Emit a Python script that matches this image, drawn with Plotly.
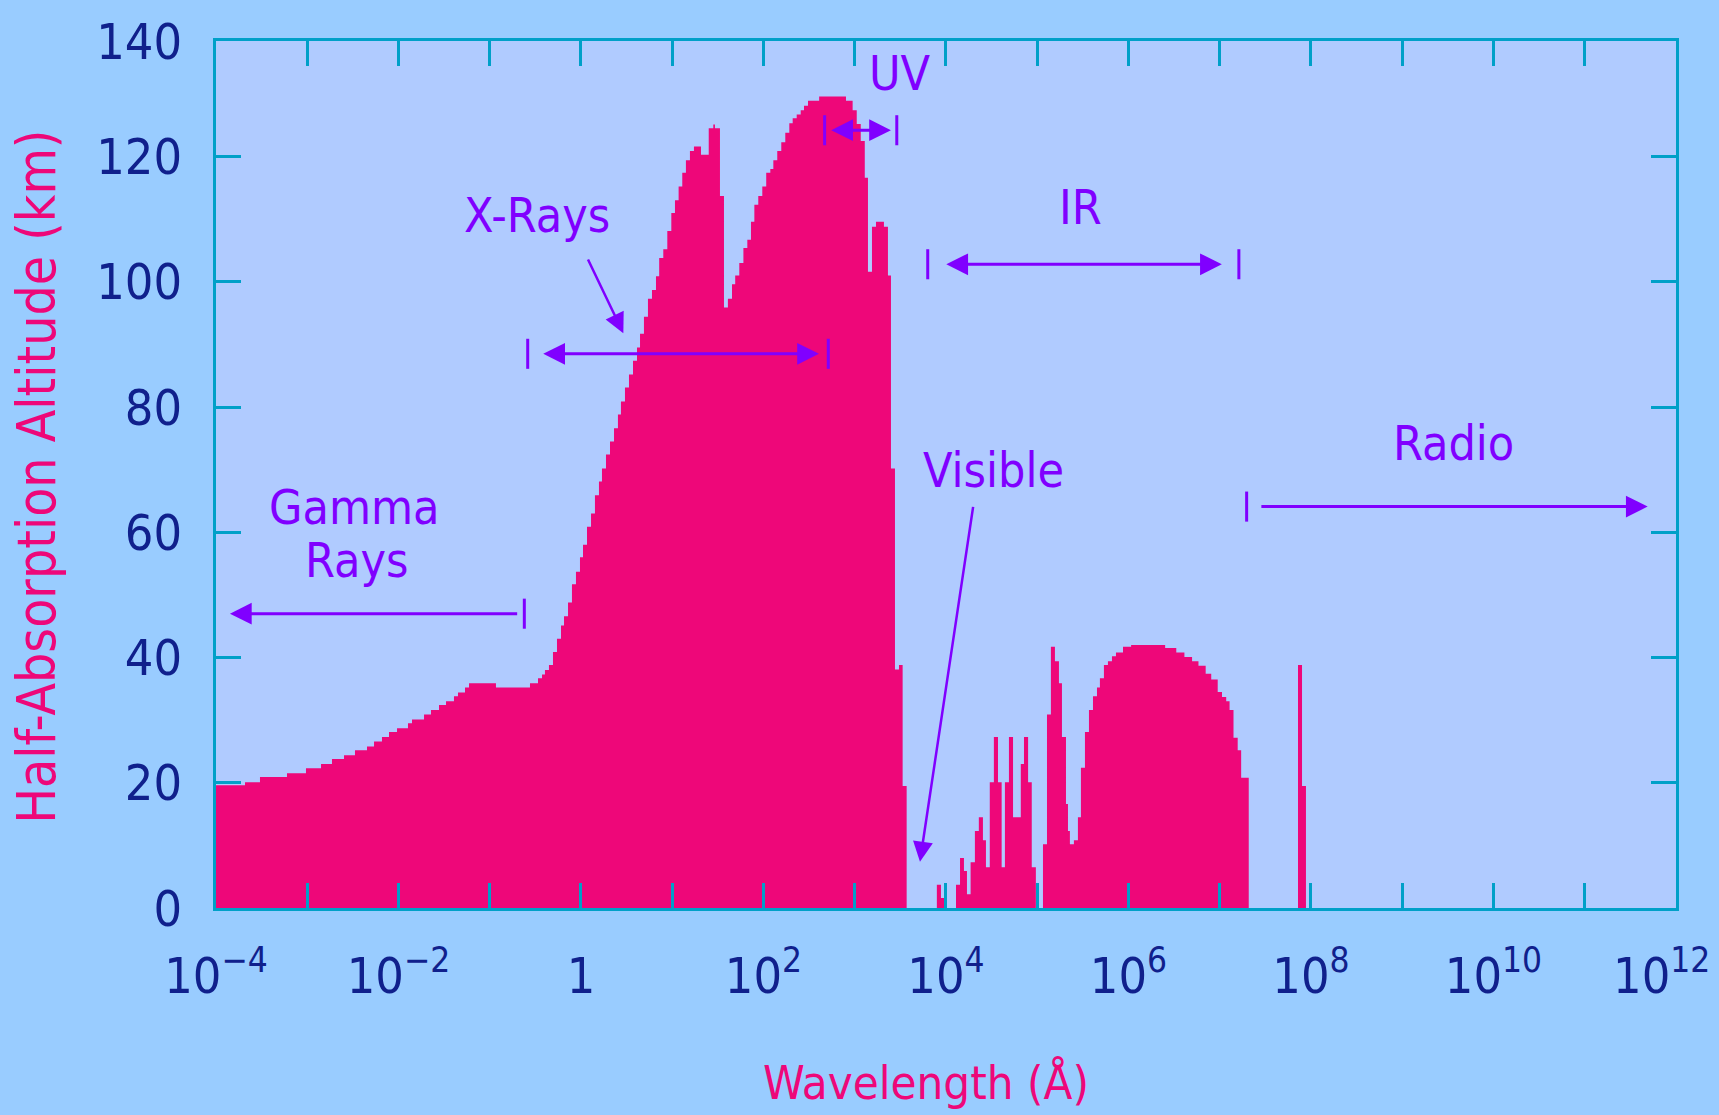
import plotly.graph_objects as go

# ---- data (log10 of wavelength in Angstrom at each step's left edge, altitude km) ----
log_wavelength = [
    -4.0, -3.682, -3.518, -3.222, -3.014, -2.849, -2.729, -2.597, -2.477, -2.345,
    -2.268, -2.181, -2.104, -2.016, -1.896, -1.852, -1.72, -1.644, -1.556, -1.479,
    -1.392, -1.348, -1.271, -1.227, -0.932, -0.559, -0.471, -0.427, -0.395, -0.351,
    -0.307, -0.263, -0.219, -0.186, -0.142, -0.099, -0.055, -0.011, 0.022, 0.066,
    0.11, 0.153, 0.197, 0.23, 0.274, 0.318, 0.362, 0.405, 0.438, 0.482,
    0.526, 0.57, 0.614, 0.647, 0.69, 0.734, 0.778, 0.822, 0.857, 0.902,
    0.946, 0.99, 1.03, 1.07, 1.11, 1.15, 1.194, 1.238, 1.315, 1.40,
    1.45, 1.468, 1.523, 1.567, 1.61, 1.655, 1.69, 1.735, 1.78, 1.823,
    1.863, 1.90, 1.943, 1.987, 2.03, 2.075, 2.108, 2.151, 2.195, 2.239,
    2.283, 2.32, 2.364, 2.408, 2.444, 2.488, 2.61, 2.904, 2.977, 3.022,
    3.066, 3.11, 3.145, 3.189, 3.233, 3.32, 3.364, 3.397, 3.441, 3.485,
    3.525, 3.569, 3.90, 3.945, 3.99, 4.11, 4.154, 4.197, 4.23, 4.27,
    4.317, 4.36, 4.405, 4.438, 4.48, 4.525, 4.57, 4.61, 4.646, 4.69,
    4.735, 4.82, 4.855, 4.9, 4.94, 4.985, 5.063, 5.107, 5.15, 5.194,
    5.238, 5.271, 5.315, 5.337, 5.358, 5.402, 5.446, 5.479, 5.523, 5.567,
    5.611, 5.655, 5.687, 5.731, 5.775, 5.819, 5.863, 5.94, 6.029, 6.402,
    6.524, 6.613, 6.697, 6.767, 6.846, 6.907, 6.978, 7.025, 7.071, 7.108,
    7.151, 7.197, 7.235, 7.318, 7.858, 7.902, 7.945,
]
altitude_km = [
    19.6, 20.1, 20.9, 21.5, 22.3, 23.0, 23.8, 24.4, 25.2, 25.8,
    26.6, 27.3, 28.1, 28.7, 29.5, 30.1, 30.9, 31.6, 32.4, 33.0,
    33.8, 34.4, 35.2, 35.9, 35.2, 35.9, 36.7, 37.3, 38.0, 38.8,
    40.9, 43.0, 45.1, 46.6, 48.8, 51.7, 53.7, 56.0, 58.0, 60.9,
    63.0, 65.9, 68.1, 70.2, 72.4, 74.5, 76.6, 78.8, 80.9, 83.1,
    85.2, 87.4, 89.5, 91.7, 94.4, 97.3, 98.7, 100.9, 103.8, 105.2,
    108.1, 111.0, 113.0, 115.2, 117.4, 119.4, 120.9, 121.6, 120.3, 124.5,
    125.1, 124.5, 113.7, 95.9, 97.3, 99.6, 101.0, 103.0, 105.4, 106.7,
    109.6, 112.3, 113.7, 115.2, 117.4, 118.0, 119.4, 120.9, 122.3, 123.8,
    125.3, 126.1, 126.7, 127.4, 128.1, 128.9, 129.6, 128.9, 127.4, 125.2,
    122.5, 116.6, 101.6, 108.8, 109.6, 108.8, 101.0, 70.2, 38.1, 38.8,
    19.5, 0.0, 3.7, 1.6, 0.0, 3.7, 8.0, 5.9, 2.2, 7.3,
    12.3, 14.5, 10.8, 6.5, 20.1, 27.3, 20.1, 6.5, 20.1, 27.3,
    14.5, 23.0, 27.3, 20.1, 6.5, 0.0, 10.2, 30.9, 41.7, 39.4,
    35.9, 27.3, 16.6, 12.3, 10.2, 10.8, 14.5, 22.4, 28.1, 31.6,
    33.8, 35.2, 36.7, 38.8, 39.4, 40.2, 40.8, 41.7, 42.0, 41.5,
    40.8, 40.1, 39.4, 38.7, 37.4, 36.5, 34.5, 33.7, 33.0, 31.6,
    27.2, 25.2, 20.8, 0.0, 38.8, 19.5, 0.0,
]

# tick marks / labels
x_label_exponents = [-4, -2, 0, 2, 4, 6, 8, 10, 12]
x_minor_exponents = [-3, -1, 1, 3, 5, 7, 9, 11]
y_tick_values = [0, 20, 40, 60, 80, 100, 120]
y_top = 138.45
y_tick_labels = ["0", "20", "40", "60", "80", "100", "120"]

# band labels: (text, log10 wavelength, altitude)
band_labels = [
    ("Gamma", -2.48, 64.1),
    ("Rays", -2.46, 55.6),
    ("X-Rays", -0.477, 110.6),
    ("UV", 3.496, 133.4),
    ("IR", 5.47, 112.0),
    ("Visible", 4.526, 69.9),
    ("Radio", 9.563, 74.2),
]
# range arrows: (tail log10, head log10, altitude, double-headed)
range_arrows = [
    (-0.683, -3.847, 47.0, False),
    (-0.43, 2.608, 88.5, True),
    (2.726, 3.397, 124.2, True),
    (3.987, 7.023, 102.8, True),
    (7.44, 11.69, 64.1, False),
]
# end bars: (log10, altitude)
end_bars = [(-0.621, 47.0), (-0.584, 88.5), (2.71, 88.5), (2.67, 124.2),
            (3.461, 124.2), (3.80, 102.8), (7.21, 102.8), (7.295, 64.1)]
# pointer arrows: (tail log10, tail alt, head log10, head alt)
pointers = [(0.069, 103.8, 0.464, 91.8), (4.30, 64.3, 3.715, 7.4)]

PAPER = "#99CCFF"
PLOTBG = "#B0CBFF"
PINK = "#EE0779"
TEAL = "#00A0C8"
NAVY = "#10208C"
PURPLE = "#8000FF"
FONT = "DejaVu Sans Condensed, Liberation Sans Narrow, sans-serif"

fig = go.Figure()
fig.add_trace(go.Scatter(
    x=[10 ** v for v in log_wavelength], y=altitude_km,
    mode="lines", line=dict(width=0, shape="hv", color=PINK),
    fill="tozeroy", fillcolor=PINK, hoverinfo="skip", showlegend=False,
))

bx, by = [], []
for lv, alt in end_bars:
    bx += [10 ** lv, 10 ** lv, None]
    by += [alt - 2.4, alt + 2.4, None]
fig.add_trace(go.Scatter(x=bx, y=by, mode="lines",
                         line=dict(color=PURPLE, width=3),
                         hoverinfo="skip", showlegend=False))

annotations = []
for text, lv, alt in band_labels:
    annotations.append(dict(x=lv, y=alt, xref="x", yref="y", text=text,
                            showarrow=False, xanchor="center", yanchor="middle",
                            font=dict(family=FONT, size=48, color=PURPLE)))
for tail, head, alt, both in range_arrows:
    annotations.append(dict(x=head, y=alt, ax=tail, ay=alt, xref="x", yref="y",
                            axref="x", ayref="y", text="", showarrow=True,
                            arrowhead=2, arrowsize=1.45, arrowwidth=3,
                            startarrowhead=2, startarrowsize=1.45,
                            arrowside="end+start" if both else "end",
                            arrowcolor=PURPLE, standoff=0, startstandoff=0))
for tl, ta, hl, ha in pointers:
    annotations.append(dict(x=hl, y=ha, ax=tl, ay=ta, xref="x", yref="y",
                            axref="x", ayref="y", text="", showarrow=True,
                            arrowhead=2, arrowsize=1.6, arrowwidth=2.5,
                            arrowcolor=PURPLE, standoff=0))
# axis titles
annotations.append(dict(x=-0.1235, y=0.497, xref="paper", yref="paper",
                        text="Half-Absorption Altitude (km)", textangle=-90,
                        showarrow=False, xanchor="center", yanchor="middle",
                        font=dict(family=FONT, size=53, color=PINK)))
annotations.append(dict(x=0.486, y=-0.2007, xref="paper", yref="paper",
                        text="Wavelength (Å)", showarrow=False,
                        xanchor="center", yanchor="middle",
                        font=dict(family=FONT, size=47, color=PINK)))

def xlabel(k):
    if k == 0:
        return "1"
    lab = "10<sup>%s</sup>" % (str(k).replace("-", "−"))
    if k == x_label_exponents[-1]:
        lab += "&nbsp;&nbsp;"
    return lab

fig.update_layout(
    width=1719, height=1115,
    margin=dict(l=216, r=43, t=41, b=207, autoexpand=False),
    paper_bgcolor=PAPER, plot_bgcolor=PLOTBG,
    annotations=annotations,
    xaxis=dict(type="log", range=[-4, 12.0005], automargin=False,
               tickvals=[10 ** k for k in x_label_exponents],
               ticktext=[xlabel(k) for k in x_label_exponents],
               ticks="inside", ticklen=25, tickwidth=3, tickcolor=TEAL,
               minor=dict(tickvals=[10 ** k for k in x_minor_exponents],
                          ticks="inside", ticklen=25, tickwidth=3,
                          tickcolor=TEAL, showgrid=False),
               showline=True, linecolor=TEAL, linewidth=3, mirror="ticks",
               showgrid=False, zeroline=False, ticklabelstandoff=22,
               ticklabeloverflow="allow",
               tickfont=dict(family=FONT, size=50, color=NAVY)),
    yaxis=dict(range=[0, y_top], automargin=False,
               tickvals=y_tick_values + [y_top],
               ticktext=y_tick_labels + ["140"],
               ticks="inside", ticklen=25, tickwidth=3, tickcolor=TEAL,
               showline=True, linecolor=TEAL, linewidth=3, mirror="ticks",
               showgrid=False, zeroline=False, ticklabelstandoff=21,
               ticklabeloverflow="allow",
               tickfont=dict(family=FONT, size=50, color=NAVY)),
)

fig.write_html("out.html")
